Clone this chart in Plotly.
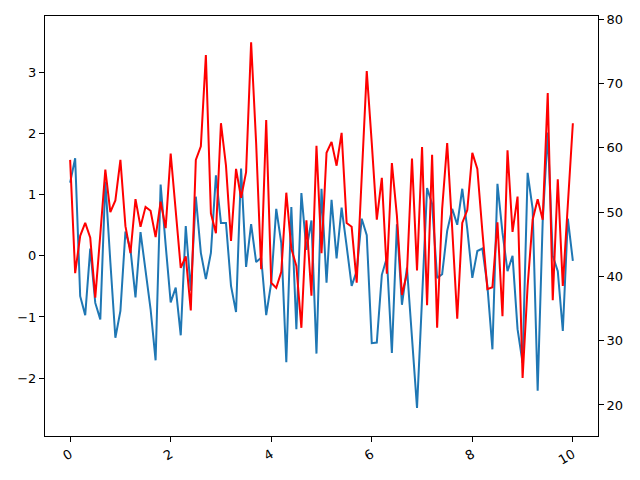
import numpy as np
import plotly.graph_objects as go

x_vals = np.linspace(0, 10, 101)

blue_vals = [1.2, 1.6, -0.66, -0.97, 0.12, -0.77, -1.04, 1.22, -0.1, -1.34,
             -0.9, 0.4, 0.11, -0.68, 0.39, -0.25, -0.87, -1.71, 1.17, 0.18,
             -0.76, -0.52, -1.3, 0.49, -0.57, 0.97, 0.05, -0.38, 0.05, 1.32,
             0.54, 0.54, -0.49, -0.92, 1.43, -0.18, 0.52, -0.1, -0.03, -0.97,
             -0.44, 0.77, 0.21, -1.74, 0.8, -1.2, 1.03, 0.1, 0.58, -1.6,
             1.1, -0.44, 0.92, -0.04, 0.79, 0.16, -0.49, -0.25, 0.61, 0.34,
             -1.43, -1.42, -0.31, -0.03, -1.59, 0.52, -0.8, -0.19, -1.3, -2.49,
             -0.7, 1.11, 0.85, -0.36, -0.3, 0.41, 0.77, 0.51, 1.1, 0.44,
             -0.36, 0.08, 0.12, -0.49, -1.53, 1.18, 0.38, -0.25, 0.0, -1.2,
             -1.75, 1.36, 0.77, -2.21, 0.57, 2.02, 0.0, -0.25, -1.23, 0.61,
             -0.08]

red_vals = [58.1, 40.5, 46.3, 48.3, 46.0, 36.7, 46.5, 56.6, 50.0, 51.8,
            58.1, 47.8, 43.6, 52.0, 47.7, 50.8, 50.2, 46.1, 51.6, 47.5,
            59.1, 49.8, 41.3, 43.1, 34.7, 58.1, 60.2, 74.4, 49.8, 46.7,
            63.8, 57.2, 45.5, 56.7, 52.2, 56.2, 76.4, 60.7, 41.1, 64.3,
            39.0, 38.2, 40.7, 53.0, 44.3, 41.6, 32.0, 48.7, 37.0, 60.3,
            43.6, 59.2, 60.9, 57.2, 62.3, 48.3, 47.7, 39.0, 56.1, 71.9,
            60.7, 48.8, 55.3, 40.4, 57.6, 49.4, 37.1, 40.5, 58.3, 40.9,
            60.1, 35.5, 58.9, 32.0, 50.5, 60.7, 47.4, 33.4, 48.3, 50.3,
            59.2, 56.7, 47.0, 38.0, 38.3, 48.4, 33.8, 59.6, 46.9, 52.4,
            24.2, 38.5, 48.8, 52.0, 48.8, 68.5, 36.3, 55.1, 38.5, 50.9,
            63.8]

x_ticks = [0, 2, 4, 6, 8, 10]
left_ticks = [-2, -1, 0, 1, 2, 3]
right_ticks = [20, 30, 40, 50, 60, 70, 80]

fig = go.Figure()
fig.add_trace(go.Scatter(x=x_vals, y=blue_vals, mode="lines",
                         line=dict(color="#1f77b4", width=2), yaxis="y",
                         showlegend=False))
fig.add_trace(go.Scatter(x=x_vals, y=red_vals, mode="lines",
                         line=dict(color="red", width=2), yaxis="y2",
                         showlegend=False))

axis_common = dict(showline=True, linecolor="black", linewidth=1,
                   ticks="outside", ticklen=5, tickwidth=1, tickcolor="black",
                   showgrid=False, zeroline=False,
                   tickfont=dict(family="DejaVu Sans", size=13, color="black"))

fig.update_layout(
    width=640, height=480,
    margin=dict(l=45, r=42, t=16, b=44),
    plot_bgcolor="white", paper_bgcolor="white",
    xaxis=dict(range=[-0.5, 10.5], tickvals=x_ticks,
               ticktext=[str(v) for v in x_ticks], tickangle=-30,
               mirror=True, **axis_common),
    yaxis=dict(range=[-2.95, 3.93], tickvals=left_ticks,
               ticktext=["\u22122", "\u22121", "0", "1", "2", "3"],
               **axis_common),
    yaxis2=dict(range=[15.18, 80.47], tickvals=right_ticks,
                overlaying="y", side="right", **axis_common),
)

fig.write_html("out.html")
